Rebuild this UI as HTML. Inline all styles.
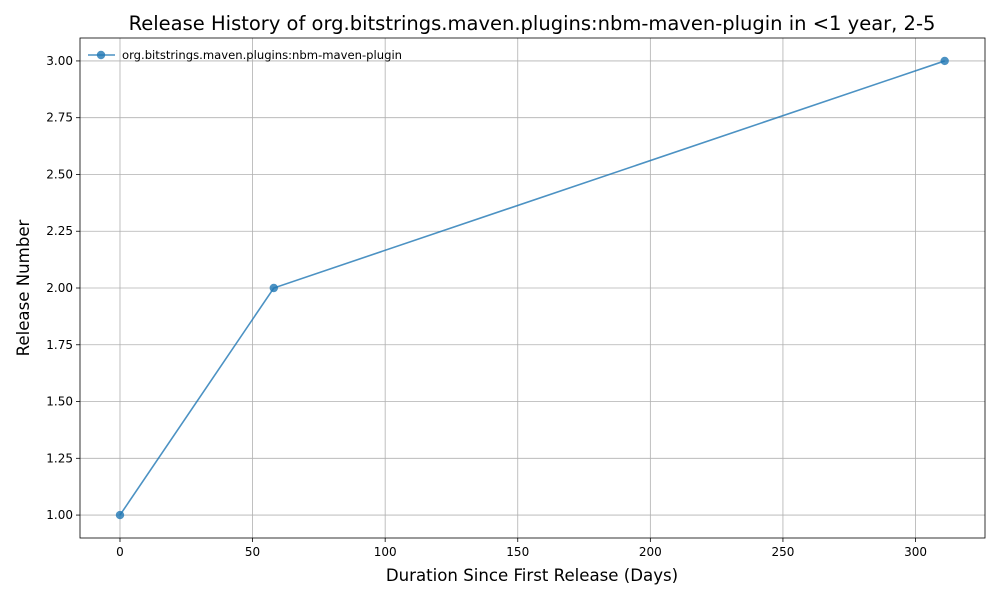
<!DOCTYPE html>
<html><head><meta charset="utf-8"><style>
body{margin:0;background:#fff;font-family:"DejaVu Sans","Liberation Sans",sans-serif;}
svg text{font-family:"DejaVu Sans","Liberation Sans",sans-serif;}
</style></head><body>
<svg id="chart" width="1000" height="600" xmlns="http://www.w3.org/2000/svg"></svg>
<script>
const days = [0, 58, 311];
const releases = [1, 2, 3];
const xTicks = [0, 50, 100, 150, 200, 250, 300];
const yTicks = [1.00, 1.25, 1.50, 1.75, 2.00, 2.25, 2.50, 2.75, 3.00];
const seriesName = "org.bitstrings.maven.plugins:nbm-maven-plugin";

const L=80,R=985,T=38,B=538;
const xMin=-15.08,xMax=326.2,yMin=0.899,yMax=3.101;
const sx=v=>L+(v-xMin)/(xMax-xMin)*(R-L);
const sy=v=>B-(v-yMin)/(yMax-yMin)*(B-T);
const svg=document.getElementById('chart');
const NS="http://www.w3.org/2000/svg";
function mk(tag,attrs,parent){const e=document.createElementNS(NS,tag);for(const k in attrs)e.setAttribute(k,attrs[k]);(parent||svg).appendChild(e);return e;}

const grid=mk('g',{});


xTicks.forEach(t=>{
  const x=sx(t);
  mk('line',{x1:x,x2:x,y1:T,y2:B,stroke:'#b0b0b0','stroke-width':0.8},grid);
  mk('line',{x1:x,x2:x,y1:B,y2:B+4,stroke:'#000','stroke-width':0.8});
  const tx=mk('text',{x:x,y:B+18,'font-size':12,'text-anchor':'middle',fill:'#000'});
  
  
  tx.textContent=t;
});
yTicks.forEach(t=>{
  const y=sy(t);
  mk('line',{x1:L,x2:R,y1:y,y2:y,stroke:'#b0b0b0','stroke-width':0.8},grid);
  mk('line',{x1:L-4,x2:L,y1:y,y2:y,stroke:'#000','stroke-width':0.8});
  const tx=mk('text',{x:L-7,y:y+4,'font-size':12,'text-anchor':'end',fill:'#000'});
  
  
  tx.textContent=t.toFixed(2);
});
const frame=mk('rect',{x:L,y:T,width:R-L,height:B-T,fill:'none',stroke:'#000','stroke-width':0.8});



const line=mk('polyline',{points:days.map((d,i)=>sx(d)+','+sy(releases[i])).join(' '),fill:'none',stroke:'#1f77b4','stroke-opacity':0.8,'stroke-width':1.6});


days.forEach((d,i)=>{
  const c=mk('circle',{cx:sx(d),cy:sy(releases[i]),r:4.2,fill:'#1f77b4','fill-opacity':0.8});
  
  
});

const title=mk('text',{x:532,y:30,'font-size':19.5,'text-anchor':'middle',fill:'#000'});


title.textContent='Release History of org.bitstrings.maven.plugins:nbm-maven-plugin in <1 year, 2-5';
const xl=mk('text',{x:532,y:581,'font-size':16.6,'text-anchor':'middle',fill:'#000'});


xl.textContent='Duration Since First Release (Days)';
const yl=mk('text',{x:0,y:0,'font-size':16.6,'text-anchor':'middle',fill:'#000',transform:'translate(29,288) rotate(-90)'});


yl.textContent='Release Number';

const lg=mk('g',{});


mk('line',{x1:88,x2:115,y1:55,y2:55,stroke:'#1f77b4','stroke-opacity':0.8,'stroke-width':1.6},lg);
mk('circle',{cx:101,cy:55,r:4.2,fill:'#1f77b4','fill-opacity':0.8},lg);
const lt=mk('text',{x:122,y:59,'font-size':11.6,fill:'#000'},lg);
lt.textContent=seriesName;
</script>
</body></html>
